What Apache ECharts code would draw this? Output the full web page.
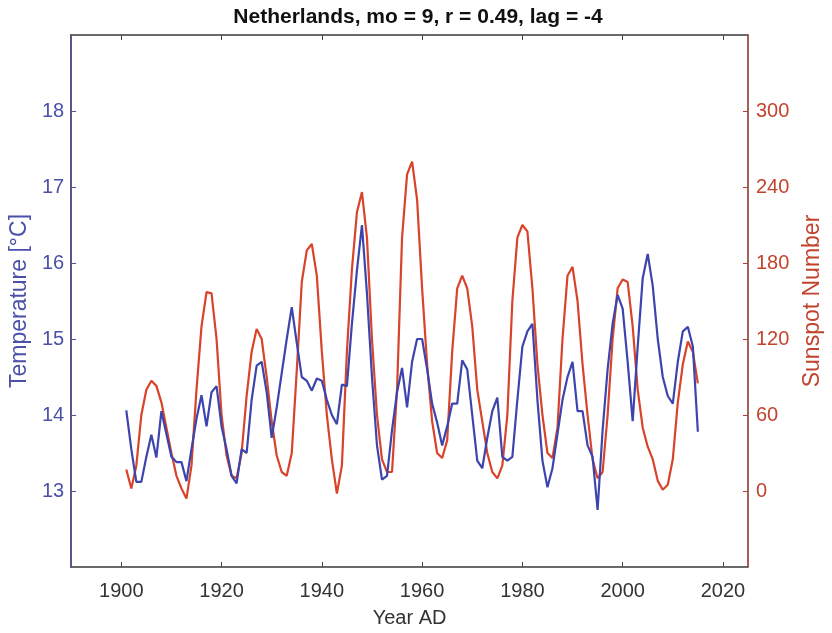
<!DOCTYPE html>
<html>
<head>
<meta charset="utf-8">
<script src="https://cdn.jsdelivr.net/npm/echarts@6/dist/echarts.min.js"></script>
<style>html,body{margin:0;padding:0;background:#fff}#c{width:832px;height:633px}</style>
</head>
<body>
<div id="c"></div>
<script>
const years = [];
for (let y = 1901; y <= 2015; y++) years.push(y);

const temperature = [
  14.06, 13.55, 13.12, 13.12, 13.45, 13.74, 13.44, 14.05, 13.75, 13.45,
  13.38, 13.38, 13.13, 13.55, 13.95, 14.26, 13.85, 14.30, 14.38, 13.85,
  13.55, 13.20, 13.10, 13.55, 13.50, 14.20, 14.65, 14.70, 14.30, 13.70,
  14.10, 14.55, 15.00, 15.42, 14.95, 14.50, 14.45, 14.32, 14.48, 14.45,
  14.20, 14.00, 13.88, 14.40, 14.38, 15.20, 15.90, 16.50, 15.60, 14.50,
  13.60, 13.15, 13.20, 13.80, 14.30, 14.62, 14.10, 14.70, 15.00, 15.00,
  14.60, 14.15, 13.90, 13.60, 13.85, 14.15, 14.15, 14.72, 14.60, 14.00,
  13.40, 13.30, 13.70, 14.05, 14.23, 13.45, 13.40, 13.45, 14.20, 14.90,
  15.10, 15.20, 14.20, 13.40, 13.05, 13.30, 13.75, 14.20, 14.50, 14.70,
  14.05, 14.05, 13.60, 13.45, 12.75, 13.80, 14.60, 15.20, 15.58, 15.40,
  14.70, 13.92, 14.90, 15.80, 16.12, 15.70, 15.00, 14.50, 14.25, 14.15,
  14.70, 15.10, 15.16, 14.90, 13.78
];

const sunspots = [
  17, 2, 20, 60, 80, 87, 83, 70, 50, 30,
  12, 2, -6, 20, 80, 130, 157, 156, 120, 60,
  28, 12, 10, 30, 75, 110, 128, 120, 90, 55,
  28, 15, 12, 30, 95, 165, 190, 195, 170, 110,
  60, 25, -2, 20, 110, 175, 220, 236, 200, 120,
  60, 25, 15, 15, 80, 200, 250, 260, 230, 160,
  100, 55, 30, 26, 40, 110, 160, 170, 160, 130,
  80, 55, 30, 15, 10, 20, 60, 150, 200, 210,
  205, 160, 100, 60, 30, 26, 50, 120, 170, 177,
  150, 100, 60, 25, 10, 15, 60, 120, 160, 167,
  165, 130, 80, 50, 35, 25, 8, 1, 5, 25,
  70, 100, 118, 110, 85
];

const xTicks = [1900, 1920, 1940, 1960, 1980, 2000, 2020];
const tempTicks = [13, 14, 15, 16, 17, 18];
const sunTicks = [0, 60, 120, 180, 240, 300];

const FONT = 'Liberation Sans, Arial, sans-serif';
const BLUE_LINE = '#3c44ad';
const RED_LINE = '#d8432a';
const BLUE_AX = '#4b50a8';
const RED_AX = '#c2442e';

const chart = echarts.init(document.getElementById('c'), null, {renderer: 'canvas'});
chart.setOption({
  animation: false,
  backgroundColor: '#fff',
  title: {
    text: 'Netherlands, mo = 9, r = 0.49, lag = -4',
    left: 413, top: 2, textAlign: 'center',
    textStyle: {fontFamily: FONT, fontWeight: 'bold', fontSize: 21, color: '#111'}
  },
  grid: {left: 70, right: 77, top: 35, bottom: 59, show: true, borderColor: '#555', borderWidth: 1, backgroundColor: 'transparent'},
  xAxis: [{
    type: 'value', min: 1890, max: 2025, position: 'bottom',
    name: 'Year AD', nameLocation: 'middle', nameGap: 41,
    nameTextStyle: {fontFamily: FONT, fontSize: 20, color: '#333'},
    axisLine: {show: true, onZero: false, lineStyle: {color: '#555', width: 1.5}},
    axisTick: {show: true, inside: true, length: 5, customValues: xTicks, lineStyle: {color: '#444'}},
    axisLabel: {show: true, customValues: xTicks, formatter: v => String(v), margin: 14, fontFamily: FONT, fontSize: 20, color: '#333'},
    splitLine: {show: false}
  }, {
    type: 'value', min: 1890, max: 2025, position: 'top',
    axisLine: {show: true, onZero: false, lineStyle: {color: '#555', width: 1.5}},
    axisTick: {show: true, inside: true, length: 5, customValues: xTicks, lineStyle: {color: '#444'}},
    axisLabel: {show: false},
    splitLine: {show: false}
  }],
  yAxis: [{
    type: 'value', min: 12, max: 19, interval: 1, position: 'left',
    name: 'Temperature [°C]', nameLocation: 'middle', nameGap: 38,
    nameTextStyle: {fontFamily: FONT, fontSize: 23, color: BLUE_AX},
    axisLine: {show: true, onZero: false, lineStyle: {color: '#56568a', width: 2}},
    axisTick: {show: true, inside: true, length: 5, customValues: tempTicks, lineStyle: {color: '#56568a'}},
    axisLabel: {show: true, customValues: tempTicks, margin: 7, fontFamily: FONT, fontSize: 20, color: BLUE_AX},
    splitLine: {show: false}
  }, {
    type: 'value', min: -60, max: 360, interval: 60, position: 'right',
    name: 'Sunspot Number', nameLocation: 'middle', nameGap: 53, nameRotate: 90,
    nameTextStyle: {fontFamily: FONT, fontSize: 23, color: RED_AX},
    axisLine: {show: true, onZero: false, lineStyle: {color: '#a8433a', width: 1.5}},
    axisTick: {show: true, inside: true, length: 5, customValues: sunTicks, lineStyle: {color: '#a8433a'}},
    axisLabel: {show: true, customValues: sunTicks, margin: 8, fontFamily: FONT, fontSize: 20, color: RED_AX},
    splitLine: {show: false}
  }],
  series: [{
    type: 'line', name: 'Temperature', xAxisIndex: 0, yAxisIndex: 0,
    data: years.map((y, i) => [y, temperature[i]]),
    showSymbol: false, symbol: 'none',
    lineStyle: {color: BLUE_LINE, width: 2.2}, z: 3
  }, {
    type: 'line', name: 'Sunspots', xAxisIndex: 0, yAxisIndex: 1,
    data: years.map((y, i) => [y, sunspots[i]]),
    showSymbol: false, symbol: 'none',
    lineStyle: {color: RED_LINE, width: 2.2}, z: 2
  }]
});
</script>
</body>
</html>
